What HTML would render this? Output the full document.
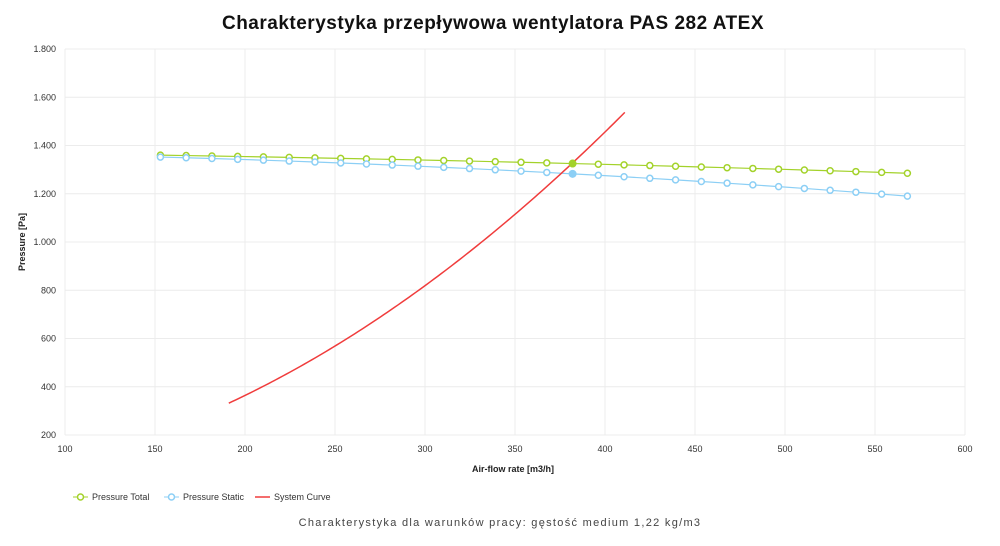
<!DOCTYPE html>
<html><head><meta charset="utf-8"><style>
body{margin:0;background:#fff;width:1000px;height:541px;overflow:hidden;font-family:"Liberation Sans",sans-serif}
</style></head><body>
<svg id="s" width="1000" height="541" xmlns="http://www.w3.org/2000/svg" font-family="Liberation Sans, sans-serif">
<text x="493" y="29" text-anchor="middle" font-size="19" font-weight="bold" fill="#111" letter-spacing="0.5">Charakterystyka przepływowa wentylatora PAS 282 ATEX</text>
<g id="grid"></g>
<text transform="translate(25,242) rotate(-90)" text-anchor="middle" font-size="9" font-weight="bold" fill="#222">Pressure [Pa]</text>
<text x="513" y="472" text-anchor="middle" font-size="9" font-weight="bold" fill="#222">Air-flow rate [m3/h]</text>
<g id="series"></g>
<g font-size="9" fill="#333">
<line x1="73" y1="497" x2="88" y2="497" stroke="#a3d22a" stroke-width="1"/><circle cx="80.5" cy="497" r="3" fill="#fff" stroke="#a3d22a" stroke-width="1.5"/><text x="92" y="500">Pressure Total</text>
<line x1="164" y1="497" x2="179" y2="497" stroke="#8ccff5" stroke-width="1"/><circle cx="171.5" cy="497" r="3" fill="#fff" stroke="#8ccff5" stroke-width="1.5"/><text x="183" y="500">Pressure Static</text>
<line x1="255" y1="497" x2="270" y2="497" stroke="#f03c3c" stroke-width="1.5"/><text x="274" y="500">System Curve</text>
</g>
<text x="500" y="526" text-anchor="middle" font-size="11" fill="#444" letter-spacing="1.3">Charakterystyka dla warunków pracy: gęstość medium 1,22 kg/m3</text>
</svg>
<script>
var NS="http://www.w3.org/2000/svg";
function X(q){return 65+(q-100)*1.8}
function Y(p){return 435-(p-200)*386/1600}
function el(t,a,par){var e=document.createElementNS(NS,t);for(var k in a)e.setAttribute(k,a[k]);par.appendChild(e);return e}
var g=document.getElementById('grid'),s=document.getElementById('series');
for(var q=100;q<=600;q+=50){el('line',{x1:X(q),x2:X(q),y1:49,y2:435,stroke:'#ececec'},g);var t=el('text',{x:X(q),y:452,'text-anchor':'middle','font-size':9,fill:'#333'},g);t.textContent=q;}
for(var p=200;p<=1800;p+=200){el('line',{x1:65,x2:965,y1:Y(p),y2:Y(p),stroke:'#ececec'},g);var t=el('text',{x:56,y:Y(p)+3,'text-anchor':'end','font-size':9,fill:'#333'},g);t.textContent=(p>=1000?(Math.floor(p/1000)+'.'+String(p%1000).padStart(3,'0')):p);}
var qs=[];for(var i=0;i<30;i++)qs.push(153+i*(415/29));
function gr(q){var d=q-153;return 1360-0.1168*d-0.000154*d*d}
function bl(q){var d=q-153;return 1352-0.197*d-0.000465*d*d}
[[gr,'#a3d22a'],[bl,'#8ccff5']].forEach(function(a){
 var pts=qs.map(function(q){return X(q)+','+Y(a[0](q))}).join(' ');
 el('polyline',{points:pts,fill:'none',stroke:a[1],'stroke-width':1.2},s);
 qs.forEach(function(q){el('circle',{cx:X(q),cy:Y(a[0](q)),r:3,fill:'#fff',stroke:a[1],'stroke-width':1.5},s)});
});
var sp=[];for(var q=191;q<=412;q+=2)sp.push(X(q)+','+Y(0.0091*q*q));
el('polyline',{points:sp.join(' '),fill:'none',stroke:'#f03c3c','stroke-width':1.5},s);
el('circle',{cx:X(382),cy:Y(gr(382)),r:4,fill:'#a3d22a'},s);
el('circle',{cx:X(382),cy:Y(bl(382)),r:4,fill:'#8ccff5'},s);
</script>
</body></html>
